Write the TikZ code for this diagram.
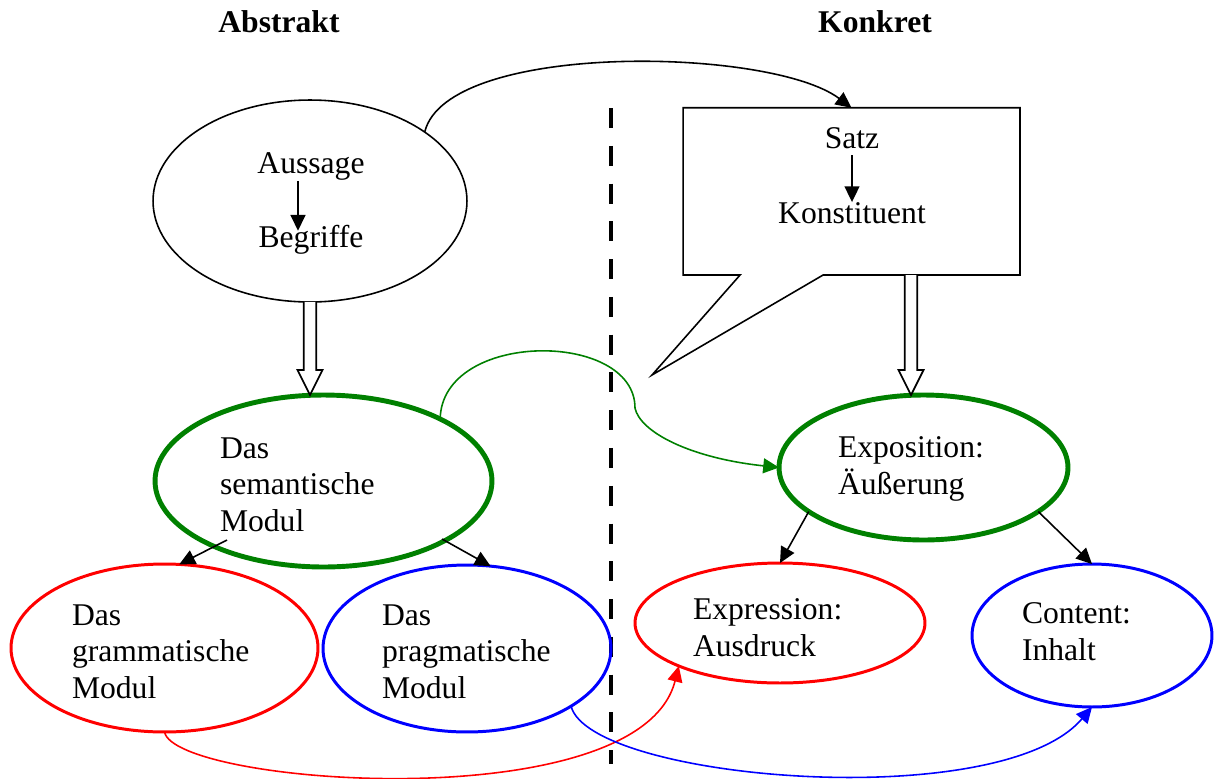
\documentclass[tikz,border=0pt]{standalone}
\usepackage{fontspec}
\setmainfont{Liberation Serif}
\usetikzlibrary{shapes.geometric,arrows.meta,calc}
\definecolor{dgreen}{RGB}{0,128,0}
\definecolor{pred}{RGB}{255,0,0}
\definecolor{pblue}{RGB}{0,0,255}

\begin{document}
\begin{tikzpicture}[x=0.02cm,y=-0.02cm,
  every node/.style={font=\fontsize{18}{20.5}\selectfont, inner sep=0pt, outer sep=0pt},
  bubble/.style={ellipse, draw, inner sep=0pt, outer sep=0pt},
  arr/.style={-{Triangle[length=9pt,width=8.5pt]}, line width=0.9pt},
  hollow/.style={draw=black, line width=1pt, fill=white, line join=miter},
  title/.style={font=\fontsize{18}{20.5}\selectfont\bfseries, anchor=base},
  lines/.style={anchor=base west, align=left}
]
\useasboundingbox (0,0) rectangle (1214,778);

% dividing line between the abstract and the concrete side
\coordinate (divtop) at (611,108);
\coordinate (divbot) at (611,764);
\draw[line width=2.8pt, dash pattern=on 11.4pt off 10.1pt] (divtop) -- (divbot);

% column headings
\node[title] (abstrakt) at (279,32) {Abstrakt};
\node[title] (konkret) at (875,32) {Konkret};

% upper left: statement
\node[bubble, line width=0.9pt, minimum width=6.28cm, minimum height=4.04cm] (aus) at (310,201) {};
\node[anchor=base] (aussage) at (311,173) {Aussage};
\node[anchor=base] (begriffe) at (311,247) {Begriffe};
\draw[arr] ($(aussage.south)+(-13,1)$) -- ($(begriffe.north)+(-13,6)$);

% upper right: speech bubble
\node[minimum width=6.74cm, minimum height=3.346cm] (box) at (851.5,191.4) {};
\coordinate (tail) at (652,375);
\draw[line width=0.9pt, line join=miter]
  (box.south west) -- (box.north west) -- (box.north east) -- (box.south east)
  -- ($(box.south west)+(140,0)$) -- (tail) -- ($(box.south west)+(57,0)$) -- cycle;
\node[anchor=base] (satz) at (852,148) {Satz};
\node[anchor=base] (konst) at (852,223) {Konstituent};
\draw[arr] ($(satz.south)+(0,7)$) -- (konst.north);

% arc from the statement to the sentence
\draw[arr] (aus.31.5) .. controls +(22,-91) and +(-81,-61) .. (box.north);

% modules
\node[bubble, draw=dgreen, line width=2.8pt, minimum width=6.74cm, minimum height=3.44cm] (sem) at (323.5,481) {};
\node[lines] (semtext) at (220,531) {Das\\semantische\\Modul};

\node[bubble, draw=dgreen, line width=2.8pt, minimum width=5.78cm, minimum height=2.9cm] (expo) at (923.5,467.5) {};
\node[lines] (expotext) at (838,494) {Exposition:\\Äußerung};

\node[bubble, draw=pred, line width=1.7pt, minimum width=6.14cm, minimum height=3.36cm] (gram) at (164.5,648) {};
\node[lines] (gramtext) at (72,698) {Das\\grammatische\\Modul};

\node[bubble, draw=pblue, line width=1.7pt, minimum width=5.76cm, minimum height=3.34cm] (prag) at (467,648.5) {};
\node[lines] (pragtext) at (382,698) {Das\\pragmatische\\Modul};

\node[bubble, draw=pred, line width=1.7pt, minimum width=5.8cm, minimum height=2.4cm] (expr) at (780,623) {};
\node[lines] (exprtext) at (693,656) {Expression:\\Ausdruck};

\node[bubble, draw=pblue, line width=1.7pt, minimum width=4.8cm, minimum height=2.86cm] (cont) at (1092,635.5) {};
\node[lines] (conttext) at (1022,660) {Content:\\Inhalt};

% hollow arrows downwards
\draw[hollow] let \p1=(aus.south), \p2=(aus.south |- sem.north) in
  (\x1-3.6pt,\y1) -- (\x1-3.6pt,\y2+14.2pt) -- (\x1-7.1pt,\y2+14.2pt) -- (\x1,\y2)
  -- (\x1+7.1pt,\y2+14.2pt) -- (\x1+3.6pt,\y2+14.2pt) -- (\x1+3.6pt,\y1);
\coordinate (boxout) at ($(box.south)+(59.5,0)$);
\draw[hollow] let \p1=(boxout), \p2=(boxout |- expo.north) in
  (\x1-3.6pt,\y1) -- (\x1-3.6pt,\y2+14.2pt) -- (\x1-7.1pt,\y2+14.2pt) -- (\x1,\y2)
  -- (\x1+7.1pt,\y2+14.2pt) -- (\x1+3.6pt,\y2+14.2pt) -- (\x1+3.6pt,\y1);

% splitting arrows
\draw[arr] ($(sem.center)+(-96.5,59)$) -- (gram.80);
\draw[arr] ($(sem.center)+(118.5,58)$) -- (prag.74);
\draw[arr] (expo.201.5) -- (expr.north);
\draw[arr] (expo.-21.5) -- (cont.north);

% cross connections
\coordinate (gbend) at (635,408);
\draw[arr, dgreen] (sem.28) .. controls (442,330) and (635,330) .. (gbend)
  .. controls (640,432) and (690,458) .. (expo.west);
\draw[arr, pred] (gram.south) .. controls (175,785) and (640,820) .. (expr.203);
\draw[arr, pblue] (prag.-29) .. controls (590,780) and (1000,815) .. (cont.south);
\end{tikzpicture}
\end{document}
